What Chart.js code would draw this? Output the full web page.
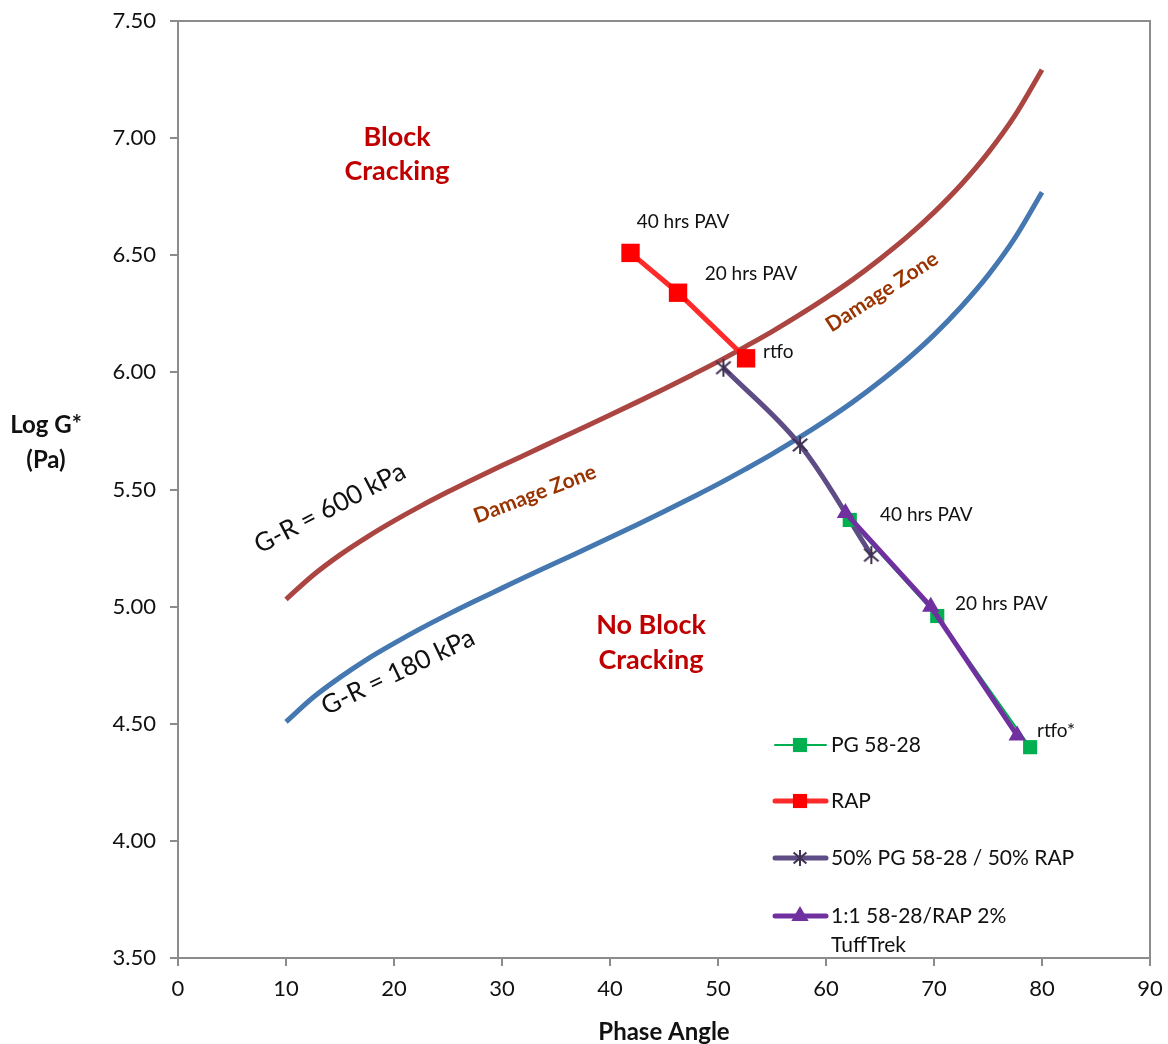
<!DOCTYPE html>
<html>
<head>
<meta charset="utf-8">
<script src="https://cdn.jsdelivr.net/npm/chart.js@4/dist/chart.umd.min.js"></script>
<style>
  html,body{margin:0;padding:0;background:#fff;}
  #wrap{width:1168px;height:1044px;position:relative;}
</style>
</head>
<body>
<div id="wrap"><canvas id="chart1" width="1168" height="1044"></canvas></div>
<script>
/* DATA */
const angles=[10,12.5,15,17.5,20,22.5,25,27.5,30,32.5,35,37.5,40,42.5,45,47.5,50,52.5,55,57.5,60,62.5,65,67.5,70,72.5,75,77.5,80];
const gr600=[5.031,5.134,5.221,5.297,5.366,5.430,5.490,5.547,5.602,5.656,5.710,5.764,5.818,5.873,5.929,5.987,6.046,6.109,6.174,6.244,6.318,6.397,6.484,6.578,6.683,6.801,6.937,7.097,7.292];
const gr180=[4.508,4.612,4.698,4.775,4.843,4.907,4.967,5.024,5.079,5.134,5.187,5.241,5.295,5.350,5.406,5.464,5.523,5.586,5.651,5.721,5.795,5.874,5.961,6.055,6.160,6.279,6.414,6.574,6.769];

const rapX=[41.9,46.3,52.6];
const rapY=[6.51,6.34,6.06];

const blendX=[50.5,57.6,64.2];
const blendY=[6.02,5.69,5.22];

const pgX=[62.2,70.3,78.9];
const pgY=[5.37,4.96,4.40];

const tuffX=[61.8,69.7,77.7];
const tuffY=[5.40,5.00,4.45];

const xTicks=[0,10,20,30,40,50,60,70,80,90];
const yTicks=[3.5,4.0,4.5,5.0,5.5,6.0,6.5,7.0,7.5];

const pts=(xs,ys)=>xs.map((x,i)=>({x:x,y:ys[i]}));

const FONT="Lato, 'Open Sans', sans-serif";

/* asterisk marker (x + vertical bar) */
function starMark(size){
  const c=document.createElement("canvas");
  c.width=size;c.height=size;
  const g=c.getContext("2d"), h=size/2, r=size/2-1;
  g.strokeStyle="#3F3151";g.lineWidth=2;
  g.beginPath();
  g.moveTo(h-r*0.8,h-r*0.7);g.lineTo(h+r*0.8,h+r*0.7);
  g.moveTo(h+r*0.8,h-r*0.7);g.lineTo(h-r*0.8,h+r*0.7);
  g.moveTo(h,h-r);g.lineTo(h,h+r);
  g.stroke();
  return c;
}
const starImg=starMark(20);
const starLeg=starMark(18);

/* DATASETS */
const sets=[
  {label:"PG 58-28",data:pts(pgX,pgY),borderColor:"#00B050",backgroundColor:"#00B050",
   borderWidth:2,pointStyle:"rect",pointRadius:10,pointBorderWidth:0,order:3,tension:0},
  {label:"RAP",data:pts(rapX,rapY),borderColor:"#FF2A2A",backgroundColor:"#FF0000",
   borderWidth:5,pointStyle:"rect",pointRadius:13,pointBorderWidth:0,order:2,tension:0},
  {label:"50% PG 58-28 / 50% RAP",data:pts(blendX,blendY),borderColor:"#5E4C85",backgroundColor:"#3F3151",
   borderWidth:5,pointStyle:starImg,pointRadius:10,order:4,tension:0.35},
  {label:"1:1 58-28/RAP 2% TuffTrek",data:pts(tuffX,tuffY),borderColor:"#7030A0",backgroundColor:"#7030A0",
   borderWidth:5,pointStyle:"triangle",pointRadius:10,pointBorderWidth:0,order:1,tension:0},
  {label:"G-R 600",data:pts(angles,gr600),borderColor:"#AA4542",borderWidth:5,pointRadius:0,
   cubicInterpolationMode:"monotone",order:6},
  {label:"G-R 180",data:pts(angles,gr180),borderColor:"#4577B0",borderWidth:5,pointRadius:0,
   cubicInterpolationMode:"monotone",order:7}
];

/* TEXT + LEGEND + FRAME */
function txt(ctx,s,x,y,font,color,align,rot){
  ctx.save();
  ctx.translate(x,y);
  if(rot)ctx.rotate(rot*Math.PI/180);
  ctx.font=font;
  ctx.fillStyle=color;
  ctx.textAlign=align||"center";
  ctx.textBaseline="middle";
  ctx.fillText(s,0,0);
  ctx.restore();
}

const extras={
  id:"extras",
  afterDraw(chart){
    const ctx=chart.ctx, a=chart.chartArea;
    // frame top/right
    ctx.save();
    ctx.strokeStyle="#8C8C8C";ctx.lineWidth=2;
    ctx.beginPath();
    ctx.moveTo(a.left,a.top);ctx.lineTo(a.right,a.top);ctx.lineTo(a.right,a.bottom);
    ctx.stroke();
    ctx.restore();

    const lab="19px "+FONT, big="bold 27px "+FONT, dz="bold 21px "+FONT;
    txt(ctx,"40 hrs PAV",683,222,lab,"#111");
    txt(ctx,"20 hrs PAV",751,274,lab,"#111");
    txt(ctx,"rtfo",763,352,lab,"#111","left");
    txt(ctx,"40 hrs PAV",880,515,lab,"#111","left");
    txt(ctx,"20 hrs PAV",955,604,lab,"#111","left");
    txt(ctx,"rtfo*",1037,731,lab,"#111","left");

    txt(ctx,"Block",397,137,big,"#C00000");
    txt(ctx,"Cracking",397,171,big,"#C00000");
    txt(ctx,"No Block",651,625,big,"#C00000");
    txt(ctx,"Cracking",651,660,big,"#C00000");

    txt(ctx,"G-R = 600 kPa",330,508,"26px "+FONT,"#111","center",-27.5);
    txt(ctx,"G-R = 180 kPa",398,672,"26px "+FONT,"#111","center",-25.5);
    txt(ctx,"Damage Zone",535,494,dz,"#993300","center",-21);
    txt(ctx,"Damage Zone",882,292,dz,"#993300","center",-33);

    txt(ctx,"Log G*",46,425,"bold 24px "+FONT,"#111");
    txt(ctx,"(Pa)",46,460,"bold 24px "+FONT,"#111");
    txt(ctx,"Phase Angle",664,1032,"bold 24px "+FONT,"#111");

    // legend
    const rows=[745,801,858,916];
    chart.data.datasets.slice(0,4).forEach((d,i)=>{
      const y=rows[i];
      ctx.save();
      ctx.strokeStyle=d.borderColor;
      ctx.lineWidth=d.borderWidth;
      ctx.lineCap="round";
      ctx.beginPath();ctx.moveTo(775,y);ctx.lineTo(826,y);ctx.stroke();
      if(i===2){
        ctx.drawImage(starLeg,800-9,y-9);
      }else{
        ctx.fillStyle=d.backgroundColor;
        ctx.strokeStyle=d.backgroundColor;
        ctx.lineWidth=0.01;
        Chart.helpers.drawPoint(ctx,{pointStyle:d.pointStyle,radius:10,borderWidth:0.01,rotation:0},800,y);
      }
      ctx.restore();
    });
    const lf="21px "+FONT;
    txt(ctx,"PG 58-28",831,745,lf,"#111","left");
    txt(ctx,"RAP",831,801,lf,"#111","left");
    txt(ctx,"50% PG 58-28 / 50% RAP",831,858,lf,"#111","left");
    txt(ctx,"1:1 58-28/RAP 2%",831,916,lf,"#111","left");
    txt(ctx,"TuffTrek",831,945,lf,"#111","left");
  }
};

new Chart(chart1,{
  type:"line",
  data:{datasets:sets},
  options:{
    responsive:false,
    animation:false,
    layout:{padding:{top:21,right:18,left:0,bottom:0}},
    plugins:{legend:{display:false},tooltip:{enabled:false}},
    scales:{
      x:{
        type:"linear",min:0,max:90,
        afterBuildTicks:s=>{s.ticks=xTicks.map(v=>({value:v}));},
        afterFit:s=>{s.height=86;s.paddingLeft=0;s.paddingRight=0;},
        border:{color:"#8C8C8C",width:2},
        grid:{drawOnChartArea:false,drawTicks:true,tickLength:8,color:"#8C8C8C",lineWidth:2},
        ticks:{font:{family:FONT,size:22},color:"#111",padding:10,maxRotation:0}
      },
      y:{
        type:"linear",min:3.5,max:7.5,
        afterBuildTicks:s=>{s.ticks=yTicks.map(v=>({value:v}));},
        afterFit:s=>{s.width=178;s.paddingTop=0;s.paddingBottom=0;},
        border:{color:"#8C8C8C",width:2},
        grid:{drawOnChartArea:false,drawTicks:true,tickLength:8,color:"#8C8C8C",lineWidth:2},
        ticks:{font:{family:FONT,size:22},color:"#111",padding:14,callback:v=>Number(v).toFixed(2)}
      }
    }
  },
  plugins:[extras]
});
</script>
</body>
</html>
